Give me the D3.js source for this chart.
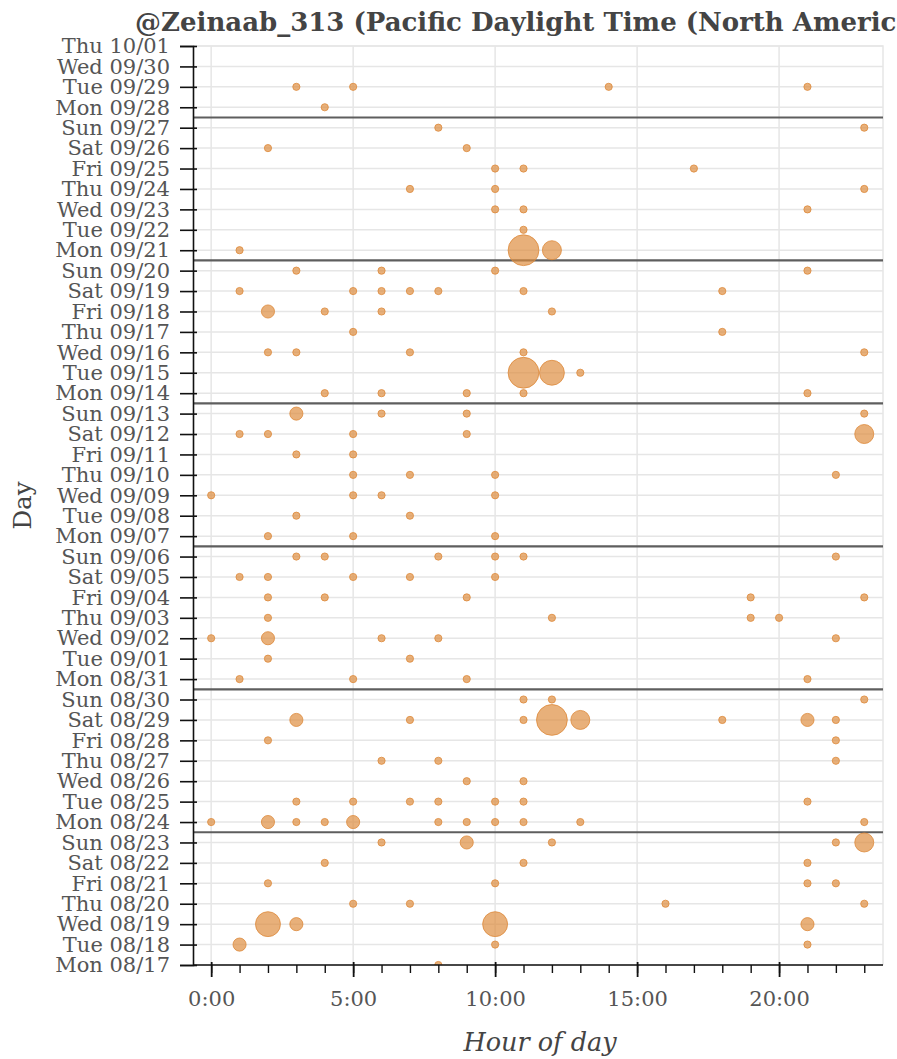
<!DOCTYPE html>
<html>
<head>
<meta charset="utf-8">
<script src="https://cdn.jsdelivr.net/npm/d3@7"></script>
<style>
  html, body { margin: 0; padding: 0; background: #fff; }
  svg { display: block; overflow: hidden; }
  text { font-family: "DejaVu Serif", serif; }
</style>
</head>
<body>
<svg id="chart" width="897" height="1059"></svg>
<script>
const TITLE = "@Zeinaab_313 (Pacific Daylight Time (North America))";

// days from bottom to top
const days = [
  "Mon 08/17", "Tue 08/18", "Wed 08/19", "Thu 08/20", "Fri 08/21", "Sat 08/22", "Sun 08/23",
  "Mon 08/24", "Tue 08/25", "Wed 08/26", "Thu 08/27", "Fri 08/28", "Sat 08/29", "Sun 08/30",
  "Mon 08/31", "Tue 09/01", "Wed 09/02", "Thu 09/03", "Fri 09/04", "Sat 09/05", "Sun 09/06",
  "Mon 09/07", "Tue 09/08", "Wed 09/09", "Thu 09/10", "Fri 09/11", "Sat 09/12", "Sun 09/13",
  "Mon 09/14", "Tue 09/15", "Wed 09/16", "Thu 09/17", "Fri 09/18", "Sat 09/19", "Sun 09/20",
  "Mon 09/21", "Tue 09/22", "Wed 09/23", "Thu 09/24", "Fri 09/25", "Sat 09/26", "Sun 09/27",
  "Mon 09/28", "Tue 09/29", "Wed 09/30", "Thu 10/01"
];

const hourTicks = [0, 5, 10, 15, 20];
const hourLabels = ["0:00", "5:00", "10:00", "15:00", "20:00"];

// [day, hour, tweets]
const tweets = [
  ["Mon 08/17", 8, 1],
  ["Tue 08/18", 1, 2], ["Tue 08/18", 10, 1], ["Tue 08/18", 21, 1],
  ["Wed 08/19", 2, 4], ["Wed 08/19", 3, 2], ["Wed 08/19", 10, 4], ["Wed 08/19", 21, 2],
  ["Thu 08/20", 5, 1], ["Thu 08/20", 7, 1], ["Thu 08/20", 16, 1], ["Thu 08/20", 23, 1],
  ["Fri 08/21", 2, 1], ["Fri 08/21", 10, 1], ["Fri 08/21", 21, 1], ["Fri 08/21", 22, 1],
  ["Sat 08/22", 4, 1], ["Sat 08/22", 11, 1], ["Sat 08/22", 21, 1],
  ["Sun 08/23", 6, 1], ["Sun 08/23", 9, 2], ["Sun 08/23", 12, 1], ["Sun 08/23", 22, 1], ["Sun 08/23", 23, 3],
  ["Mon 08/24", 0, 1], ["Mon 08/24", 2, 2], ["Mon 08/24", 3, 1], ["Mon 08/24", 4, 1], ["Mon 08/24", 5, 2],
  ["Mon 08/24", 8, 1], ["Mon 08/24", 9, 1], ["Mon 08/24", 10, 1], ["Mon 08/24", 11, 1], ["Mon 08/24", 13, 1],
  ["Mon 08/24", 23, 1],
  ["Tue 08/25", 3, 1], ["Tue 08/25", 5, 1], ["Tue 08/25", 7, 1], ["Tue 08/25", 8, 1], ["Tue 08/25", 10, 1],
  ["Tue 08/25", 11, 1], ["Tue 08/25", 21, 1],
  ["Wed 08/26", 9, 1], ["Wed 08/26", 11, 1],
  ["Thu 08/27", 6, 1], ["Thu 08/27", 8, 1], ["Thu 08/27", 22, 1],
  ["Fri 08/28", 2, 1], ["Fri 08/28", 22, 1],
  ["Sat 08/29", 3, 2], ["Sat 08/29", 7, 1], ["Sat 08/29", 11, 1], ["Sat 08/29", 12, 5], ["Sat 08/29", 13, 3],
  ["Sat 08/29", 18, 1], ["Sat 08/29", 21, 2], ["Sat 08/29", 22, 1],
  ["Sun 08/30", 11, 1], ["Sun 08/30", 12, 1], ["Sun 08/30", 23, 1],
  ["Mon 08/31", 1, 1], ["Mon 08/31", 5, 1], ["Mon 08/31", 9, 1], ["Mon 08/31", 21, 1],
  ["Tue 09/01", 2, 1], ["Tue 09/01", 7, 1],
  ["Wed 09/02", 0, 1], ["Wed 09/02", 2, 2], ["Wed 09/02", 6, 1], ["Wed 09/02", 8, 1], ["Wed 09/02", 22, 1],
  ["Thu 09/03", 2, 1], ["Thu 09/03", 12, 1], ["Thu 09/03", 19, 1], ["Thu 09/03", 20, 1],
  ["Fri 09/04", 2, 1], ["Fri 09/04", 4, 1], ["Fri 09/04", 9, 1], ["Fri 09/04", 19, 1], ["Fri 09/04", 23, 1],
  ["Sat 09/05", 1, 1], ["Sat 09/05", 2, 1], ["Sat 09/05", 5, 1], ["Sat 09/05", 7, 1], ["Sat 09/05", 10, 1],
  ["Sun 09/06", 3, 1], ["Sun 09/06", 4, 1], ["Sun 09/06", 8, 1], ["Sun 09/06", 10, 1], ["Sun 09/06", 11, 1],
  ["Sun 09/06", 22, 1],
  ["Mon 09/07", 2, 1], ["Mon 09/07", 5, 1], ["Mon 09/07", 10, 1],
  ["Tue 09/08", 3, 1], ["Tue 09/08", 7, 1],
  ["Wed 09/09", 0, 1], ["Wed 09/09", 5, 1], ["Wed 09/09", 6, 1], ["Wed 09/09", 10, 1],
  ["Thu 09/10", 5, 1], ["Thu 09/10", 7, 1], ["Thu 09/10", 10, 1], ["Thu 09/10", 22, 1],
  ["Fri 09/11", 3, 1], ["Fri 09/11", 5, 1],
  ["Sat 09/12", 1, 1], ["Sat 09/12", 2, 1], ["Sat 09/12", 5, 1], ["Sat 09/12", 9, 1], ["Sat 09/12", 23, 3],
  ["Sun 09/13", 3, 2], ["Sun 09/13", 6, 1], ["Sun 09/13", 9, 1], ["Sun 09/13", 23, 1],
  ["Mon 09/14", 4, 1], ["Mon 09/14", 6, 1], ["Mon 09/14", 9, 1], ["Mon 09/14", 11, 1], ["Mon 09/14", 21, 1],
  ["Tue 09/15", 11, 5], ["Tue 09/15", 12, 4], ["Tue 09/15", 13, 1],
  ["Wed 09/16", 2, 1], ["Wed 09/16", 3, 1], ["Wed 09/16", 7, 1], ["Wed 09/16", 11, 1], ["Wed 09/16", 23, 1],
  ["Thu 09/17", 5, 1], ["Thu 09/17", 18, 1],
  ["Fri 09/18", 2, 2], ["Fri 09/18", 4, 1], ["Fri 09/18", 6, 1], ["Fri 09/18", 12, 1],
  ["Sat 09/19", 1, 1], ["Sat 09/19", 5, 1], ["Sat 09/19", 6, 1], ["Sat 09/19", 7, 1], ["Sat 09/19", 8, 1],
  ["Sat 09/19", 11, 1], ["Sat 09/19", 18, 1],
  ["Sun 09/20", 3, 1], ["Sun 09/20", 6, 1], ["Sun 09/20", 10, 1], ["Sun 09/20", 21, 1],
  ["Mon 09/21", 1, 1], ["Mon 09/21", 11, 5], ["Mon 09/21", 12, 3],
  ["Tue 09/22", 11, 1],
  ["Wed 09/23", 10, 1], ["Wed 09/23", 11, 1], ["Wed 09/23", 21, 1],
  ["Thu 09/24", 7, 1], ["Thu 09/24", 10, 1], ["Thu 09/24", 23, 1],
  ["Fri 09/25", 10, 1], ["Fri 09/25", 11, 1], ["Fri 09/25", 17, 1],
  ["Sat 09/26", 2, 1], ["Sat 09/26", 9, 1],
  ["Sun 09/27", 8, 1], ["Sun 09/27", 23, 1],
  ["Mon 09/28", 4, 1],
  ["Tue 09/29", 3, 1], ["Tue 09/29", 5, 1], ["Tue 09/29", 14, 1], ["Tue 09/29", 21, 1]
];

const svg = d3.select("#chart");
const W = +svg.attr("width"), H = +svg.attr("height");
const margin = { top: 46, right: 14, bottom: 94, left: 193 };
const iw = W - margin.left - margin.right,
  ih = H - margin.top - margin.bottom;

const x = d3.scaleLinear().domain([-0.64, 23.66]).range([0, iw]);
const y = d3.scalePoint().domain(days).range([ih, 0]);
const r = d3.scaleLinear().domain([1, 5]).range([3.6, 15.4]);
const step = y.step();

svg.append("defs").append("clipPath").attr("id", "plotclip")
  .append("rect").attr("width", iw).attr("height", ih);

const g = svg.append("g")
  .attr("transform", "translate(" + margin.left + "," + margin.top + ")");

// grid
g.append("g").selectAll("line")
  .data(days)
  .join("line")
  .attr("x1", 0).attr("x2", iw)
  .attr("y1", d => y(d)).attr("y2", d => y(d))
  .attr("stroke", "#e6e6e6").attr("stroke-width", 1.5);

g.append("g").selectAll("line")
  .data(hourTicks)
  .join("line")
  .attr("x1", d => x(d)).attr("x2", d => x(d))
  .attr("y1", 0).attr("y2", ih)
  .attr("stroke", "#e6e6e6").attr("stroke-width", 1.5);

// frame top/right
g.append("path")
  .attr("d", "M0,0H" + iw + "V" + ih)
  .attr("fill", "none")
  .attr("stroke", "#e6e6e6").attr("stroke-width", 1.5);

// week separators (between Sunday and Monday)
g.append("g").selectAll("line")
  .data(days.filter((d, i) => i > 0 && d.startsWith("Mon")))
  .join("line")
  .attr("x1", 0).attr("x2", iw)
  .attr("y1", d => y(d) + step / 2).attr("y2", d => y(d) + step / 2)
  .attr("stroke", "#5e5e5e").attr("stroke-width", 2.2);

// bubbles
g.append("g")
  .attr("clip-path", "url(#plotclip)")
  .selectAll("circle")
  .data(tweets)
  .join("circle")
  .attr("cx", d => x(d[1]))
  .attr("cy", d => y(d[0]))
  .attr("r", d => r(d[2]))
  .attr("fill", "#dd8a3b")
  .attr("fill-opacity", 0.68)
  .attr("stroke", "#dd8a3b")
  .attr("stroke-opacity", 0.8)
  .attr("stroke-width", 1);

// y axis
const yAxis = g.append("g")
  .call(d3.axisLeft(y).tickSize(13).tickPadding(10));
yAxis.select(".domain").attr("stroke", "#111").attr("stroke-width", 1.6);
yAxis.selectAll(".tick line").attr("x1", 4).attr("stroke", "#111").attr("stroke-width", 1.6);
yAxis.selectAll(".tick text")
  .attr("fill", "#555").style("font-size", "21px");

// x axis, minor ticks every hour then major ticks
const xAxisG = g.append("g").attr("transform", "translate(0," + ih + ")");
xAxisG.append("g")
  .call(d3.axisBottom(x).tickValues(d3.range(0, 24)).tickSize(8).tickFormat(""))
  .call(a => a.select(".domain").remove())
  .selectAll(".tick line").attr("stroke", "#111").attr("stroke-width", 1.4);
const xAxis = xAxisG.append("g")
  .call(d3.axisBottom(x).tickValues(hourTicks).tickSize(12).tickPadding(14)
    .tickFormat((d, i) => hourLabels[i]));
xAxis.select(".domain").attr("stroke", "#111").attr("stroke-width", 1.6)
  .attr("d", "M0,0H" + iw);
xAxis.selectAll(".tick line").attr("y1", -3).attr("stroke", "#111").attr("stroke-width", 1.8);
xAxis.selectAll(".tick text")
  .attr("fill", "#555").style("font-size", "21px");

// labels
svg.append("text")
  .attr("x", 135).attr("y", 31)
  .attr("fill", "#444")
  .style("font-size", "26px").style("font-weight", "bold")
  .text(TITLE);

svg.append("text")
  .attr("x", 540).attr("y", 1051)
  .attr("text-anchor", "middle")
  .attr("fill", "#444")
  .style("font-size", "25.5px").style("font-style", "italic")
  .text("Hour of day");

svg.append("text")
  .attr("transform", "translate(31," + (margin.top + ih / 2) + ") rotate(-90)")
  .attr("text-anchor", "middle")
  .attr("fill", "#444")
  .style("font-size", "24.5px")
  .text("Day");
</script>
</body>
</html>
